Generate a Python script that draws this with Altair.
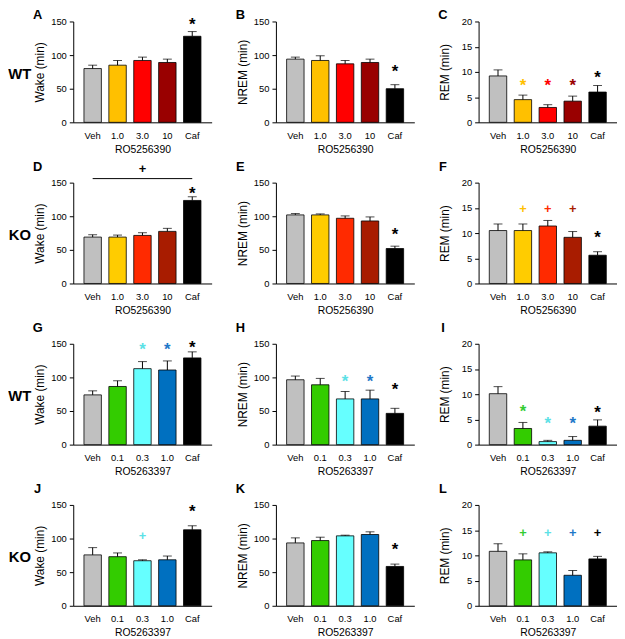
import altair as alt
import pandas as pd

FONT = "Liberation Sans"

# ---------------- data ----------------
cats_390 = ["Veh", "1.0", "3.0", "10", "Caf"]
cats_397 = ["Veh", "0.1", "0.3", "1.0", "Caf"]

GRAY = "#C0C0C0"
BLACK = "#000000"
cols_390_wt = [GRAY, "#FFC000", "#FF0000", "#990000", BLACK]
cols_390_ko = [GRAY, "#FFCC00", "#FF2A00", "#A81C00", BLACK]
cols_397 = [GRAY, "#33CC00", "#66FFFF", "#0070C0", BLACK]

A_mean = [80, 85, 92, 89, 128];        A_err = [5, 7, 5, 5, 7]
B_mean = [94, 92, 87, 89, 50];         B_err = [3, 7, 5, 5, 6]
C_mean = [9.2, 4.5, 2.95, 4.2, 6.0];   C_err = [1.2, 0.9, 0.55, 1.0, 1.3]
D_mean = [69, 69, 71.5, 77.5, 123.5];  D_err = [3.5, 3, 4, 4.5, 5.5]
E_mean = [102, 102, 97, 93, 52];       E_err = [2, 1.5, 3.5, 6, 3.5]
F_mean = [10.5, 10.5, 11.4, 9.15, 5.6]; F_err = [1.3, 1.3, 1.1, 1.15, 0.7]
G_mean = [74, 86.5, 113, 111, 129];    G_err = [6, 8.5, 10.5, 13.5, 9]
H_mean = [96.5, 89, 68, 68, 46.5];     H_err = [5.5, 9.5, 11, 13, 7.5]
I_mean = [10.1, 3.2, 0.6, 0.85, 3.66]; I_err = [1.4, 1.2, 0.25, 0.75, 1.25]
J_mean = [75.7, 73, 67, 68.4, 113];    J_err = [10.8, 5.6, 1.4, 5.6, 6]
K_mean = [93.5, 97, 104, 106, 58.5];   K_err = [7.5, 5, 1, 4, 3.5]
L_mean = [10.8, 9.1, 10.5, 6.05, 9.3]; L_err = [1.5, 1.2, 0.2, 0.95, 0.5]

# annotations: (category, y value, symbol, colour)
A_ann = [("Caf", 152, "*", BLACK)]
B_ann = [("Caf", 82, "*", BLACK)]
C_ann = [("1.0", 8.1, "*", "#FFC000"), ("3.0", 8.1, "*", "#FF0000"),
         ("10", 8.1, "*", "#990000"), ("Caf", 9.8, "*", BLACK)]
D_ann = [("Caf", 141, "*", BLACK), ("3.0", 170, "+", BLACK)]
E_ann = [("Caf", 80, "*", BLACK)]
F_ann = [("1.0", 14.8, "+", "#FFC000"), ("3.0", 14.8, "+", "#FF2A00"),
         ("10", 14.8, "+", "#A81C00"), ("Caf", 10, "*", BLACK)]
G_ann = [("0.3", 147.5, "*", "#5CE1E6"), ("1.0", 147.5, "*", "#1F78C8"),
         ("Caf", 151, "*", BLACK)]
H_ann = [("0.3", 100.5, "*", "#5CE1E6"), ("1.0", 100.5, "*", "#1F78C8"),
         ("Caf", 89, "*", BLACK)]
I_ann = [("0.1", 7.4, "*", "#33CC33"), ("0.3", 5.0, "*", "#5CE1E6"),
         ("1.0", 5.0, "*", "#1F78C8"), ("Caf", 7.3, "*", BLACK)]
J_ann = [("0.3", 103.6, "+", "#5CE1E6"), ("Caf", 146.5, "*", BLACK)]
K_ann = [("Caf", 89.5, "*", BLACK)]
L_ann = [("0.1", 14.5, "+", "#33CC33"), ("0.3", 14.5, "+", "#5CE1E6"),
         ("1.0", 14.5, "+", "#1F78C8"), ("Caf", 14.5, "+", BLACK)]

D_bracket = [("Veh", "Caf", 156)]

row_labels = ["WT", "KO", "WT", "KO"]
drug_390 = "RO5256390"
drug_397 = "RO5263397"

W, H = 140, 102


def panel(letter, cats, means, errs, colors, ann, ymax, ytitle, xtitle,
          row_label=None, bracket=None, letter_y=-16):
    df = pd.DataFrame({"cat": cats, "mean": means,
                       "top": [m + e for m, e in zip(means, errs)],
                       "col": colors})
    tvals = [0, 50, 100, 150] if ymax == 150 else [0, 5, 10, 15, 20]
    yscale = alt.Scale(domain=[0, ymax], nice=False, zero=True)
    xscale = alt.Scale(domain=cats, paddingInner=0.3, paddingOuter=0.43)
    xaxis = alt.Axis(title=xtitle, ticks=False, labelAngle=0,
                     labelPadding=8, titlePadding=5,
                     labelFontSize=9.5, titleFontSize=10.5,
                     titleFontWeight="normal")
    yaxis = alt.Axis(title=ytitle, values=tvals, tickSize=4,
                     labelFontSize=9.5, titleFontSize=12,
                     titleFontWeight="normal", labelPadding=3,
                     minExtent=25, maxExtent=25, titlePadding=2)

    def X(field="cat"):
        return alt.X(f"{field}:N", sort=cats, scale=xscale, axis=xaxis, title=xtitle)

    def Y(field):
        return alt.Y(f"{field}:Q", scale=yscale, axis=yaxis, title=ytitle)

    base = alt.Chart(df)
    bars = base.mark_bar(stroke="black", strokeWidth=0.8).encode(
        x=X(), y=Y("mean"), color=alt.Color("col:N", scale=None))
    rule = base.mark_rule(color="black", strokeWidth=1).encode(
        x=X(), y=Y("mean"), y2="top:Q")
    cap = base.mark_tick(color="black", thickness=1, size=9).encode(
        x=X(), y=Y("top"))
    layers = [bars, rule, cap]

    adf = pd.DataFrame(ann, columns=["cat", "yv", "sym", "c"])
    stars = adf[adf["sym"] == "*"]
    plus = adf[adf["sym"] == "+"]
    if len(stars):
        layers.append(alt.Chart(stars).mark_text(
            fontSize=17, fontWeight="bold", baseline="middle", dy=5,
            font=FONT).encode(
            x=X(), y=Y("yv"), text="sym:N", color=alt.Color("c:N", scale=None)))
    if len(plus):
        layers.append(alt.Chart(plus).mark_text(
            fontSize=13, fontWeight="bold", baseline="middle",
            font=FONT).encode(
            x=X(), y=Y("yv"), text="sym:N", color=alt.Color("c:N", scale=None)))
    if bracket:
        bdf = pd.DataFrame(bracket, columns=["x1", "x2", "yb"])
        layers.append(alt.Chart(bdf).mark_rule(color="black", strokeWidth=1).encode(
            x=X("x1"), x2="x2:N", y=Y("yb")))
    layers.append(alt.Chart(pd.DataFrame({"t": [letter]})).mark_text(
        fontSize=13, fontWeight="bold", baseline="middle", align="center",
        font=FONT).encode(x=alt.value(-36), y=alt.value(letter_y), text="t:N"))
    if row_label:
        layers.append(alt.Chart(pd.DataFrame({"t": [row_label]})).mark_text(
            fontSize=15, fontWeight="bold", baseline="middle", align="center",
            font=FONT).encode(x=alt.value(-54), y=alt.value(53), text="t:N"))
    return alt.layer(*layers).properties(width=W, height=H)


panels = [
    panel("A", cats_390, A_mean, A_err, cols_390_wt, A_ann, 150, "Wake (min)", drug_390, row_labels[0], letter_y=-7),
    panel("B", cats_390, B_mean, B_err, cols_390_wt, B_ann, 150, "NREM (min)", drug_390, letter_y=-7),
    panel("C", cats_390, C_mean, C_err, cols_390_wt, C_ann, 20, "REM (min)", drug_390, letter_y=-7),
    panel("D", cats_390, D_mean, D_err, cols_390_ko, D_ann, 150, "Wake (min)", drug_390, row_labels[1], D_bracket),
    panel("E", cats_390, E_mean, E_err, cols_390_ko, E_ann, 150, "NREM (min)", drug_390),
    panel("F", cats_390, F_mean, F_err, cols_390_ko, F_ann, 20, "REM (min)", drug_390),
    panel("G", cats_397, G_mean, G_err, cols_397, G_ann, 150, "Wake (min)", drug_397, row_labels[2]),
    panel("H", cats_397, H_mean, H_err, cols_397, H_ann, 150, "NREM (min)", drug_397),
    panel("I", cats_397, I_mean, I_err, cols_397, I_ann, 20, "REM (min)", drug_397),
    panel("J", cats_397, J_mean, J_err, cols_397, J_ann, 150, "Wake (min)", drug_397, row_labels[3]),
    panel("K", cats_397, K_mean, K_err, cols_397, K_ann, 150, "NREM (min)", drug_397),
    panel("L", cats_397, L_mean, L_err, cols_397, L_ann, 20, "REM (min)", drug_397),
]

chart = alt.concat(*panels, columns=3, spacing={"row": 61, "column": 65},
                   bounds="flush").properties(
    padding={"left": 0, "top": -3, "right": 0, "bottom": 0}
).configure_view(
    stroke=None
).configure_axis(
    grid=False, domainColor="black", tickColor="black", labelColor="black",
    titleColor="black", labelFont=FONT, titleFont=FONT, domainWidth=1
).configure_text(font=FONT)

chart.save("out.html", embed_options={"renderer": "svg", "actions": False})
